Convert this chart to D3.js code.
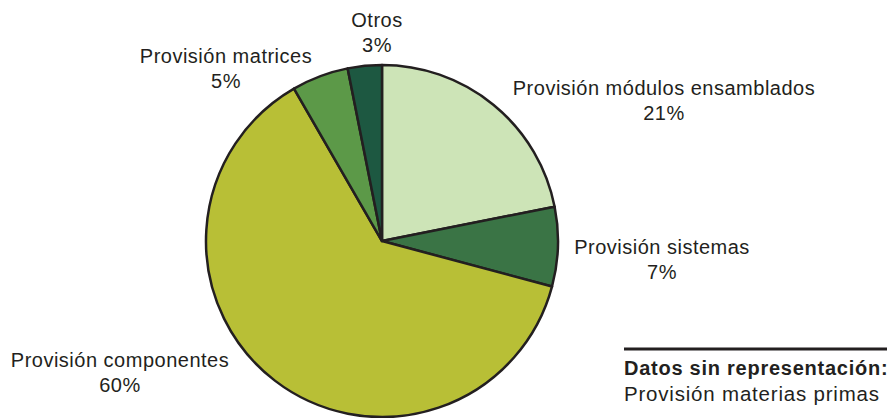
<!DOCTYPE html>
<html>
<head>
<meta charset="utf-8">
<script src="https://cdn.jsdelivr.net/npm/d3@7"></script>
<style>
  body { margin: 0; background: #fff; }
  text { font-family: "Liberation Sans", Arial, sans-serif; fill: #231f20; }
</style>
</head>
<body>
<div id="chart"></div>
<script>
// slices, clockwise from 12 o'clock
var categories = ["Provisión módulos ensamblados", "Provisión sistemas", "Provisión componentes", "Provisión matrices", "Otros"];
var values = [21, 7, 60, 5, 3];
var colorList = ["#cde4b7", "#3a7445", "#b8bf36", "#5c9948", "#1d5841"];
var noteTitle = "Datos sin representación:";
var noteItems = ["Provisión materias primas"];

// label anchors (centre x, baseline of first line)
var labelPos = [[664, 95], [662, 254], [120, 367], [226, 63], [377, 27]];

var width = 890, height = 418;
var cx = 382, cy = 241, radius = 176;
var lineGap = 25;

var svg = d3.select("#chart").append("svg")
    .attr("width", width)
    .attr("height", height);

var data = categories.map(function (c, i) {
    return { name: c, value: values[i] };
});

var pie = d3.pie()
    .sort(null)
    .value(function (d) { return d.value; });

var arc = d3.arc()
    .innerRadius(0)
    .outerRadius(radius);

var color = d3.scaleOrdinal()
    .domain(categories)
    .range(colorList);

var g = svg.append("g")
    .attr("transform", "translate(" + cx + "," + cy + ")");

g.selectAll("path")
    .data(pie(data))
    .enter().append("path")
    .attr("d", arc)
    .attr("fill", function (d) { return color(d.data.name); })
    .attr("stroke", "#231f20")
    .attr("stroke-width", 2.5)
    .attr("stroke-linejoin", "round");

var labels = svg.selectAll(".label")
    .data(data)
    .enter().append("text")
    .attr("class", "label")
    .attr("text-anchor", "middle")
    .attr("font-size", "20px")
    .attr("letter-spacing", "0.5px");

labels.append("tspan")
    .attr("x", function (d, i) { return labelPos[i][0]; })
    .attr("y", function (d, i) { return labelPos[i][1]; })
    .text(function (d) { return d.name; });

labels.append("tspan")
    .attr("x", function (d, i) { return labelPos[i][0]; })
    .attr("y", function (d, i) { return labelPos[i][1] + lineGap; })
    .text(function (d) { return d.value + "%"; });

// note box bottom right
var note = svg.append("g").attr("transform", "translate(624,349)");

note.append("line")
    .attr("x1", 0).attr("x2", 263)
    .attr("y1", 0).attr("y2", 0)
    .attr("stroke", "#231f20")
    .attr("stroke-width", 3);

note.append("text")
    .attr("x", 0).attr("y", 26)
    .attr("font-size", "20px")
    .attr("font-weight", "bold")
    .attr("letter-spacing", "0.75px")
    .text(noteTitle);

note.selectAll(".item")
    .data(noteItems)
    .enter().append("text")
    .attr("class", "item")
    .attr("x", 0)
    .attr("y", function (d, i) { return 52 + i * lineGap; })
    .attr("font-size", "20.5px")
    .attr("letter-spacing", "0.8px")
    .text(function (d) { return d; });
</script>
</body>
</html>
